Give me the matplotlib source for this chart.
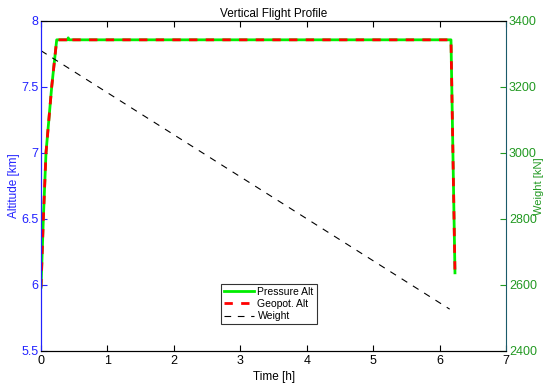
import matplotlib.pyplot as plt

plt.rcParams['font.family'] = ['Liberation Sans', 'DejaVu Sans']

# flight profile samples
time_h = [0.0, 0.035, 0.075, 0.161, 0.236, 0.40, 0.41, 0.42, 6.17, 6.23]
press_alt = [5.98, 6.5, 7.0, 7.5, 7.855, 7.855, 7.87, 7.855, 7.855, 6.09]
geopot_alt = [5.98, 6.5, 7.0, 7.5, 7.855, 7.855, 7.87, 7.855, 7.855, 6.09]

weight_t = [0.0, 6.15]
weight_kn = [3309, 2526]

blue = '#2222ff'
green = '#229922'

fig = plt.figure(figsize=(5.44, 3.83), dpi=100)
ax = fig.add_axes([0.0754, 0.0843, 0.855, 0.8617])
ax2 = ax.twinx()

l1, = ax.plot(time_h, press_alt, color='#00ee00', lw=2.0, label='Pressure Alt')
l2, = ax.plot(time_h, geopot_alt, color='#ff0000', lw=2.0, ls=(0, (3, 3)), label='Geopot. Alt')
l3, = ax2.plot(weight_t, weight_kn, color='black', lw=0.8, ls=(0, (6, 6)), label='Weight')

ax.set_xlim(0, 7)
ax.set_ylim(5.5, 8)
ax2.set_ylim(2400, 3400)
ax.set_xticks(range(8))
ax.set_yticks([5.5, 6, 6.5, 7, 7.5, 8])
ax.set_yticklabels(['5.5', '6', '6.5', '7', '7.5', '8'])
ax2.set_yticks(range(2400, 3401, 200))

ax.tick_params(axis='x', direction='in', length=4, labelsize=9, top=True, pad=3)
ax.tick_params(axis='y', direction='in', length=4, labelsize=9, colors=blue, pad=2)
ax2.tick_params(axis='y', direction='in', length=4, labelsize=9, colors=green, pad=2)

ax.spines['left'].set_color(blue)
ax2.spines['left'].set_color(blue)
ax2.spines['right'].set_color('#1a5a6a')
ax.spines['right'].set_visible(False)
for s in ['top', 'bottom']:
    ax2.spines[s].set_color('black')

ax.set_xlabel('Time [h]', fontsize=8.5, labelpad=3)
ax.set_ylabel('Altitude [km]', fontsize=8.5, color=blue)
ax2.set_ylabel('Weight [kN]', fontsize=8, color=green)
ax.yaxis.set_label_coords(-0.046, 0.5)
ax2.yaxis.set_label_coords(1.06, 0.5)
ax.set_title('Vertical Flight Profile', fontsize=8.5, pad=3)

leg = ax2.legend(handles=[l1, l2, l3], loc='lower center', bbox_to_anchor=(0.49, 0.08),
                 borderaxespad=0, fontsize=7.5, frameon=True, fancybox=False,
                 edgecolor='black', handlelength=2.9, handletextpad=0.3,
                 labelspacing=0.2, borderpad=0.3)
leg.get_frame().set_linewidth(0.8)

fig.savefig('out.png', dpi=100)
